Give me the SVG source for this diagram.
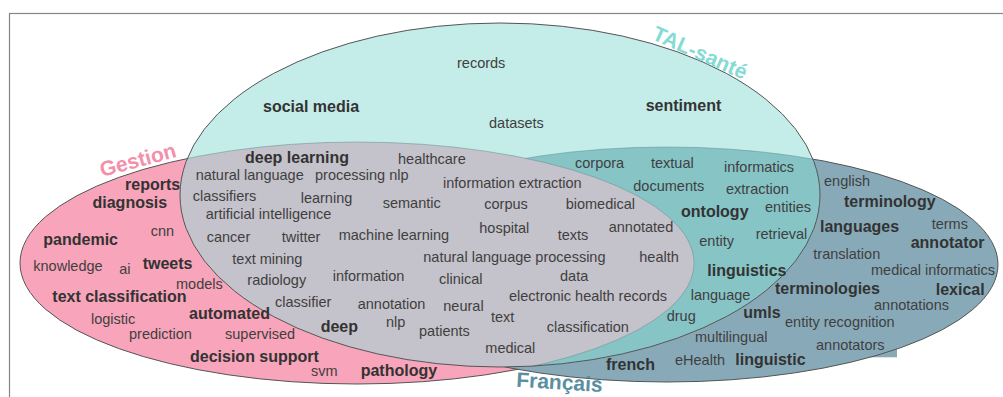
<svg xmlns="http://www.w3.org/2000/svg" width="1003" height="397" viewBox="0 0 1003 397">
  <style>
    text { font-family: "Liberation Sans", Arial, sans-serif; }
    .w { font-size: 14.5px; fill: #3f3f3f; }
    .b { font-size: 16px; font-weight: bold; fill: #333333; }
    .title { font-size: 21px; font-weight: bold; }
    .edge { fill: none; stroke: #555555; stroke-width: 1; }
    .inner { fill: none; stroke: #5e8a8c; stroke-width: 0.8; stroke-opacity: 0.6; }
  </style>
  <defs>
    <ellipse id="e-pink" cx="357" cy="263" rx="337" ry="121"/>
    <ellipse id="e-cyan" cx="500" cy="195" rx="320" ry="172"/>
    <ellipse id="e-blue" cx="667" cy="264.5" rx="331" ry="117.5"/>
    <clipPath id="clip-cyan"><use href="#e-cyan"/></clipPath>
  </defs>
  <rect x="9.5" y="13.5" width="1000" height="400" fill="#ffffff" stroke="#858585" stroke-width="1.2"/>

  <g id="set-gestion">
    <use href="#e-pink" fill="#f8a4ba" stroke="#555555" stroke-width="1"/>
  </g>
  <g id="set-francais">
    <rect x="814" y="336" width="83" height="21.3" fill="#88aab8"/>
    <use href="#e-blue" fill="#88aab8" stroke="#555555" stroke-width="1"/>
  </g>
  <g id="set-tal-sante">
    <use href="#e-cyan" fill="#c4ece9"/>
  </g>
  <g id="overlap-tal-francais" clip-path="url(#clip-cyan)">
    <use href="#e-blue" fill="#86c4c6"/>
    <use href="#e-blue" class="inner"/>
  </g>
  <g id="overlap-gestion-tal" clip-path="url(#clip-cyan)">
    <use href="#e-pink" fill="#c4c2ca"/>
    <use href="#e-pink" class="inner"/>
  </g>
  <use href="#e-cyan" class="edge"/>

  <g id="titles">
    <text class="title" fill="#f48fab" transform="translate(102,177) rotate(-15)">Gestion</text>
    <text class="title" fill="#84dbd3" transform="translate(651,38.7) rotate(24)">TAL-santé</text>
    <text class="title" fill="#5a8fa2" transform="translate(516,386.7) rotate(3.5)">Français</text>
  </g>

  <g id="words-tal-sante">
    <text class="w" x="457" y="68">records</text>
    <text class="b" x="263" y="111.7">social media</text>
    <text class="w" x="489" y="127.5">datasets</text>
    <text class="b" x="645.7" y="111">sentiment</text>
  </g>

  <g id="words-gestion-tal">
    <text class="b" x="245" y="162.7">deep learning</text>
    <text class="w" x="398" y="164">healthcare</text>
    <text class="w" x="195.7" y="180">natural language</text>
    <text class="w" x="315" y="180">processing nlp</text>
    <text class="w" x="443" y="188.3">information extraction</text>
    <text class="w" x="192.7" y="201">classifiers</text>
    <text class="w" x="300.7" y="202.7">learning</text>
    <text class="w" x="382.7" y="208.3">semantic</text>
    <text class="w" x="484.3" y="209">corpus</text>
    <text class="w" x="565.7" y="209">biomedical</text>
    <text class="w" x="205.7" y="219.3">artificial intelligence</text>
    <text class="w" x="206.7" y="241.7">cancer</text>
    <text class="w" x="281.7" y="242">twitter</text>
    <text class="w" x="338.7" y="240">machine learning</text>
    <text class="w" x="479.3" y="232.7">hospital</text>
    <text class="w" x="557.7" y="240">texts</text>
    <text class="w" x="608.7" y="232.3">annotated</text>
    <text class="w" x="232.3" y="264">text mining</text>
    <text class="w" x="423.3" y="261.7">natural language processing</text>
    <text class="w" x="639.3" y="262.3">health</text>
    <text class="w" x="247.3" y="285">radiology</text>
    <text class="w" x="332.7" y="280.7">information</text>
    <text class="w" x="439" y="284.3">clinical</text>
    <text class="w" x="560" y="280.7">data</text>
    <text class="w" x="509" y="300.7">electronic health records</text>
    <text class="w" x="275" y="307.3">classifier</text>
    <text class="w" x="357.7" y="309.3">annotation</text>
    <text class="w" x="443.3" y="310.7">neural</text>
    <text class="w" x="491" y="322.3">text</text>
    <text class="b" x="320.7" y="331.7">deep</text>
    <text class="w" x="386" y="327.3">nlp</text>
    <text class="w" x="419" y="335.7">patients</text>
    <text class="w" x="546.7" y="331.7">classification</text>
    <text class="w" x="485.3" y="353.3">medical</text>
  </g>

  <g id="words-gestion">
    <text class="b" x="125" y="190">reports</text>
    <text class="b" x="92.5" y="207.5">diagnosis</text>
    <text class="b" x="43.3" y="245">pandemic</text>
    <text class="w" x="150.7" y="236.3">cnn</text>
    <text class="w" x="33.3" y="270.7">knowledge</text>
    <text class="w" x="119.3" y="274">ai</text>
    <text class="b" x="142.7" y="269.3">tweets</text>
    <text class="w" x="176" y="289.3">models</text>
    <text class="b" x="52.3" y="301.7">text classification</text>
    <text class="w" x="91" y="324.3">logistic</text>
    <text class="b" x="189" y="319">automated</text>
    <text class="w" x="129" y="339.3">prediction</text>
    <text class="w" x="225" y="339.3">supervised</text>
    <text class="b" x="190" y="361.7">decision support</text>
    <text class="w" x="311" y="375.7">svm</text>
    <text class="b" x="360.7" y="376">pathology</text>
  </g>

  <g id="words-tal-francais">
    <text class="w" x="575" y="167.7">corpora</text>
    <text class="w" x="651" y="168.3">textual</text>
    <text class="w" x="724" y="171.7">informatics</text>
    <text class="w" x="633.3" y="191">documents</text>
    <text class="w" x="726" y="194">extraction</text>
    <text class="b" x="681" y="216.7">ontology</text>
    <text class="w" x="765" y="212.3">entities</text>
    <text class="w" x="699.3" y="245.7">entity</text>
    <text class="w" x="755.7" y="239">retrieval</text>
    <text class="b" x="707.3" y="276">linguistics</text>
    <text class="w" x="690.7" y="300">language</text>
    <text class="w" x="666.7" y="320.7">drug</text>
  </g>

  <g id="words-francais">
    <text class="w" x="824" y="186">english</text>
    <text class="b" x="844" y="207.3">terminology</text>
    <text class="b" x="820" y="232.3">languages</text>
    <text class="w" x="931.7" y="229.3">terms</text>
    <text class="b" x="910.7" y="247.7">annotator</text>
    <text class="w" x="813.3" y="259">translation</text>
    <text class="w" x="871" y="275">medical informatics</text>
    <text class="b" x="775" y="294">terminologies</text>
    <text class="b" x="935.7" y="295">lexical</text>
    <text class="w" x="874" y="310">annotations</text>
    <text class="b" x="743.3" y="318.3">umls</text>
    <text class="w" x="785" y="326.7">entity recognition</text>
    <text class="w" x="695" y="342.3">multilingual</text>
    <text class="w" x="816" y="350">annotators</text>
    <text class="w" x="675" y="365">eHealth</text>
    <text class="b" x="735.3" y="365">linguistic</text>
    <text class="b" x="606" y="370">french</text>
  </g>
</svg>
